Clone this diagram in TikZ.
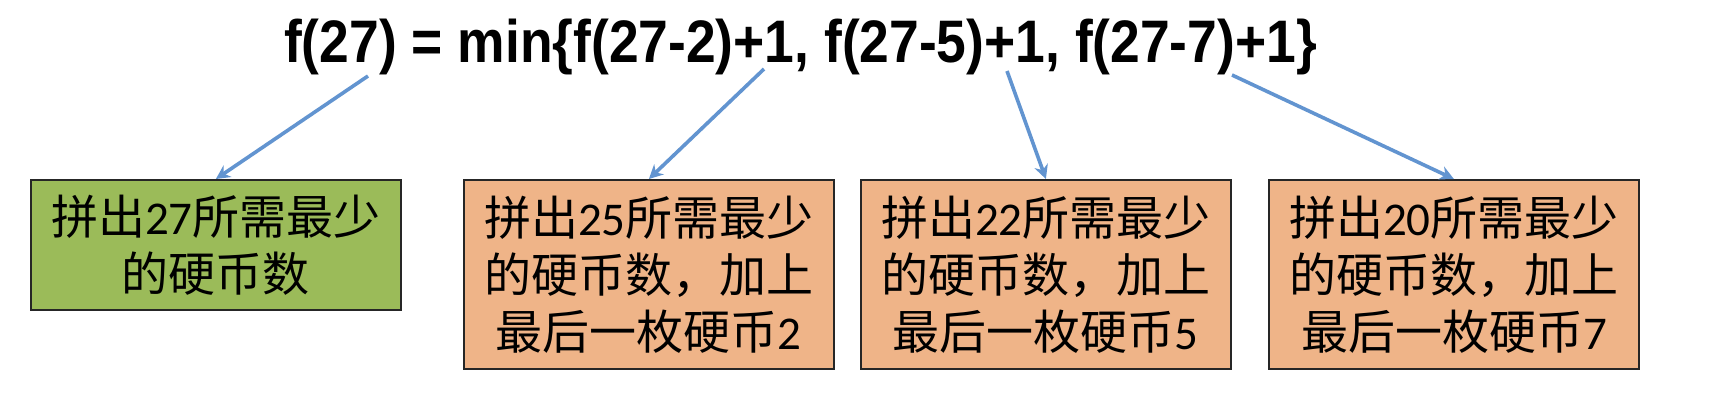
\documentclass[tikz,border=0pt]{standalone}
\usepackage{fontspec}
\usetikzlibrary{arrows.meta}
\setmainfont{Liberation Sans}
\newfontfamily\formfont[FakeStretch=0.89]{Liberation Sans}
\newfontfamily\cjk{Noto Sans CJK SC}
\newfontfamily\lat{Carlito}
\definecolor{boxgreen}{RGB}{155,187,89}
\definecolor{boxorange}{RGB}{239,180,136}
\definecolor{arrowblue}{RGB}{98,148,208}
\newcommand{\dg}[1]{{\lat #1}}
\tikzset{
  cell/.style={draw=black!85, line width=1.8pt, inner sep=0pt, align=center,
    minimum width=370pt, text width=360pt,
    font=\cjk\fontsize{47}{57}\selectfont},
  greencell/.style={cell, fill=boxgreen, minimum height=130pt},
  orangecell/.style={cell, fill=boxorange, minimum height=189pt},
  link/.style={draw=arrowblue, line width=3.6pt, -{Stealth[length=14pt,width=14pt]}}
}
\begin{document}
\begin{tikzpicture}[x=1pt,y=-1pt]
\useasboundingbox[fill=white] (0,0) rectangle (1727,401);
\node[anchor=base west, inner sep=0pt, font=\formfont\bfseries\fontsize{60}{62}\selectfont] (formula) at (284,63)
  {f(27) = min\{f(27-2)+1, f(27-5)+1, f(27-7)+1\}};
\node[greencell, anchor=north west] (g) at (30,179) {拼出\dg{27}所需最少\\的硬币数};
\node[orangecell, anchor=north west] (o1) at (463,179) {拼出\dg{25}所需最少\\的硬币数，加上\\最后一枚硬币\dg{2}};
\node[orangecell, anchor=north west] (o2) at (860,179) {拼出\dg{22}所需最少\\的硬币数，加上\\最后一枚硬币\dg{5}};
\node[orangecell, anchor=north west] (o3) at (1268,179) {拼出\dg{20}所需最少\\的硬币数，加上\\最后一枚硬币\dg{7}};
\coordinate (s1) at (368,76);
\coordinate (s2) at (764,69);
\coordinate (s3) at (1007,71);
\coordinate (s4) at (1232,75);
\draw[link] (s1) -- (g.north);
\draw[link] (s2) -- (o1.north);
\draw[link] (s3) -- (o2.north);
\draw[link] (s4) -- (o3.north);
\end{tikzpicture}
\end{document}
